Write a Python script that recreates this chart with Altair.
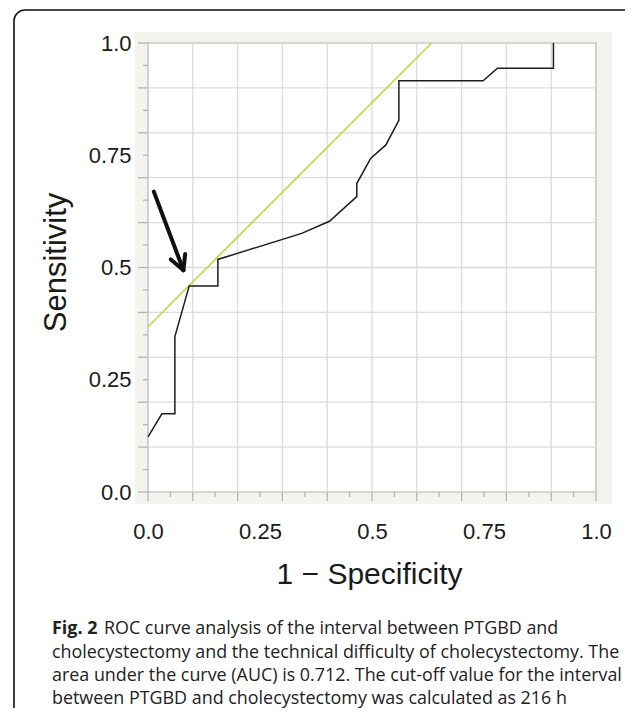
import altair as alt
import pandas as pd

# ---- data ----
roc_fpr = [0.0, 0.031, 0.060, 0.060, 0.092, 0.156, 0.156, 0.343, 0.405, 0.466,
           0.466, 0.497, 0.531, 0.560, 0.560, 0.748, 0.780, 0.905, 0.905]
roc_tpr = [0.123, 0.174, 0.174, 0.346, 0.459, 0.459, 0.518, 0.576, 0.603, 0.658,
           0.687, 0.743, 0.773, 0.828, 0.916, 0.916, 0.944, 0.944, 1.0]

tangent_x = [0.0, 0.633]
tangent_y = [0.368, 1.0]

arrow_seg = ["shaft", "shaft", "left", "left", "right", "right"]
arrow_x = [0.013, 0.079, 0.051, 0.079, 0.083, 0.079]
arrow_y = [0.669, 0.494, 0.518, 0.494, 0.530, 0.494]

major_vals = [0.0, 0.1, 0.2, 0.3, 0.4, 0.5, 0.6, 0.7, 0.8, 0.9, 1.0]
minor_vals = [0.05, 0.15, 0.25, 0.35, 0.45, 0.55, 0.65, 0.75, 0.85, 0.95]
label_vals = [0.0, 0.25, 0.5, 0.75, 1.0]

x_title = "1 − Specificity"
y_title = "Sensitivity"

caption_bold = "Fig. 2"
caption_lines = [
    "ROC curve analysis of the interval between PTGBD and",
    "cholecystectomy and the technical difficulty of cholecystectomy. The",
    "area under the curve (AUC) is 0.712. The cut-off value for the interval",
    "between PTGBD and cholecystectomy was calculated as 216 h",
]

W, H = 448, 449
FONT = "Liberation Sans"
CAP_FONT = "Open Sans"

sc = alt.Scale(domain=[0, 1], nice=False, zero=False)
label_expr = "datum.value == 0 ? '0.0' : datum.value == 1 ? '1.0' : '' + datum.value"

x_axis = alt.Axis(values=label_vals, labelExpr=label_expr, ticks=False,
                  domain=False, grid=False, labelFlush=False, zindex=2,
                  labelPadding=29, labelFont=FONT, labelFontSize=22,
                  labelColor="#1a1a1a", titleFont=FONT, titleFontSize=30,
                  titleFontWeight="normal", titleColor="#1a1a1a",
                  titleX=221, titleY=91, titleBaseline="alphabetic",
                  titleAlign="center")
y_axis = alt.Axis(values=label_vals, labelExpr=label_expr, ticks=False,
                  domain=False, grid=False, labelFlush=False, zindex=2,
                  labelPadding=17, labelFont=FONT, labelFontSize=22,
                  labelColor="#1a1a1a", titleFont=FONT, titleFontSize=31,
                  titleFontWeight="normal", titleColor="#1a1a1a",
                  titleX=-83, titleY=219, titleAngle=270,
                  titleBaseline="alphabetic", titleAlign="center")


def X(field):
    return alt.X(field, type="quantitative", scale=sc, title=x_title, axis=x_axis)


def Y(field):
    return alt.Y(field, type="quantitative", scale=sc, title=y_title, axis=y_axis)


one = pd.DataFrame({"k": [0]})
roc_df = pd.DataFrame({"fpr": roc_fpr, "tpr": roc_tpr, "o": list(range(len(roc_fpr)))})
tan_df = pd.DataFrame({"fpr": tangent_x, "tpr": tangent_y})
arr_df = pd.DataFrame({"seg": arrow_seg, "fpr": arrow_x, "tpr": arrow_y,
                       "o": list(range(len(arrow_x)))})
major_df = pd.DataFrame({"v": major_vals})
minor_df = pd.DataFrame({"v": minor_vals})

# background panel, frame and plot area
frame = alt.Chart(one).mark_rect(filled=False, color="#111111", strokeWidth=1.6,
                                 cornerRadius=11).encode(
    x=alt.value(-134), x2=alt.value(492), y=alt.value(-33), y2=alt.value(720))
panel = alt.Chart(one).mark_rect(color="#f4f4ef").encode(
    x=alt.value(-13), x2=alt.value(464), y=alt.value(-11), y2=alt.value(461))
plotbg = alt.Chart(one).mark_rect(fill="white", stroke="#a9a9a9", strokeWidth=1.5).encode(
    x=alt.value(0), x2=alt.value(W), y=alt.value(0), y2=alt.value(H))

# grid and ticks
ygrid = alt.Chart(major_df).mark_rule(color="#dcdcdc", strokeWidth=1.3).encode(
    y=Y("v"), x=alt.value(0), x2=alt.value(W))
xgrid = alt.Chart(major_df).mark_rule(color="#dcdcdc", strokeWidth=1.3).encode(
    x=X("v"), y=alt.value(0), y2=alt.value(H))
ytick_major = alt.Chart(major_df).mark_rule(color="#b3b3b3", strokeWidth=1.3).encode(
    y=Y("v"), x=alt.value(-10), x2=alt.value(0))
ytick_minor = alt.Chart(minor_df).mark_rule(color="#b3b3b3", strokeWidth=1.3).encode(
    y=Y("v"), x=alt.value(-5), x2=alt.value(0))
xtick_major = alt.Chart(major_df).mark_rule(color="#b3b3b3", strokeWidth=1.3).encode(
    x=X("v"), y=alt.value(H), y2=alt.value(H + 9))
xtick_minor = alt.Chart(minor_df).mark_rule(color="#b3b3b3", strokeWidth=1.3).encode(
    x=X("v"), y=alt.value(H), y2=alt.value(H + 5))

tangent = alt.Chart(tan_df).mark_line(color="#c6d047", strokeWidth=1.6).encode(
    x=X("fpr"), y=Y("tpr"))

roc = alt.Chart(roc_df).mark_line(color="#1c1c1c", strokeWidth=1.5).encode(
    x=X("fpr"), y=Y("tpr"), order="o:O")

arrow = alt.Chart(arr_df).mark_line(color="#111111", strokeWidth=4, strokeCap="round",
                                    strokeJoin="round").encode(
    x=X("fpr"), y=Y("tpr"), detail="seg:N", order="o:O")

# caption
CAP_SIZE = 17.9
cap_y = [591, 615, 638, 661]
cap_layers = [
    alt.Chart(one).mark_text(text=caption_bold, font=CAP_FONT, fontSize=CAP_SIZE,
                             fontWeight="bold", align="left", baseline="alphabetic",
                             color="#222222").encode(x=alt.value(-96), y=alt.value(cap_y[0]))
]
cap_x = [-44, -96, -96, -96]
for i, line in enumerate(caption_lines):
    cap_layers.append(
        alt.Chart(one).mark_text(text=line, font=CAP_FONT, fontSize=CAP_SIZE, align="left",
                                 baseline="alphabetic", color="#222222").encode(
            x=alt.value(cap_x[i]), y=alt.value(cap_y[i])))

chart = alt.layer(
    frame, panel, plotbg, ygrid, xgrid, ytick_major, ytick_minor, xtick_major,
    xtick_minor, tangent, roc, arrow, *cap_layers
).properties(
    width=W, height=H,
    autosize=alt.AutoSizeParams(type="none"),
    padding={"left": 140, "top": 35, "right": 29, "bottom": 216},
    background="white",
).configure_view(strokeWidth=0)

chart.save("out.html", embed_options={"renderer": "svg", "actions": False})
